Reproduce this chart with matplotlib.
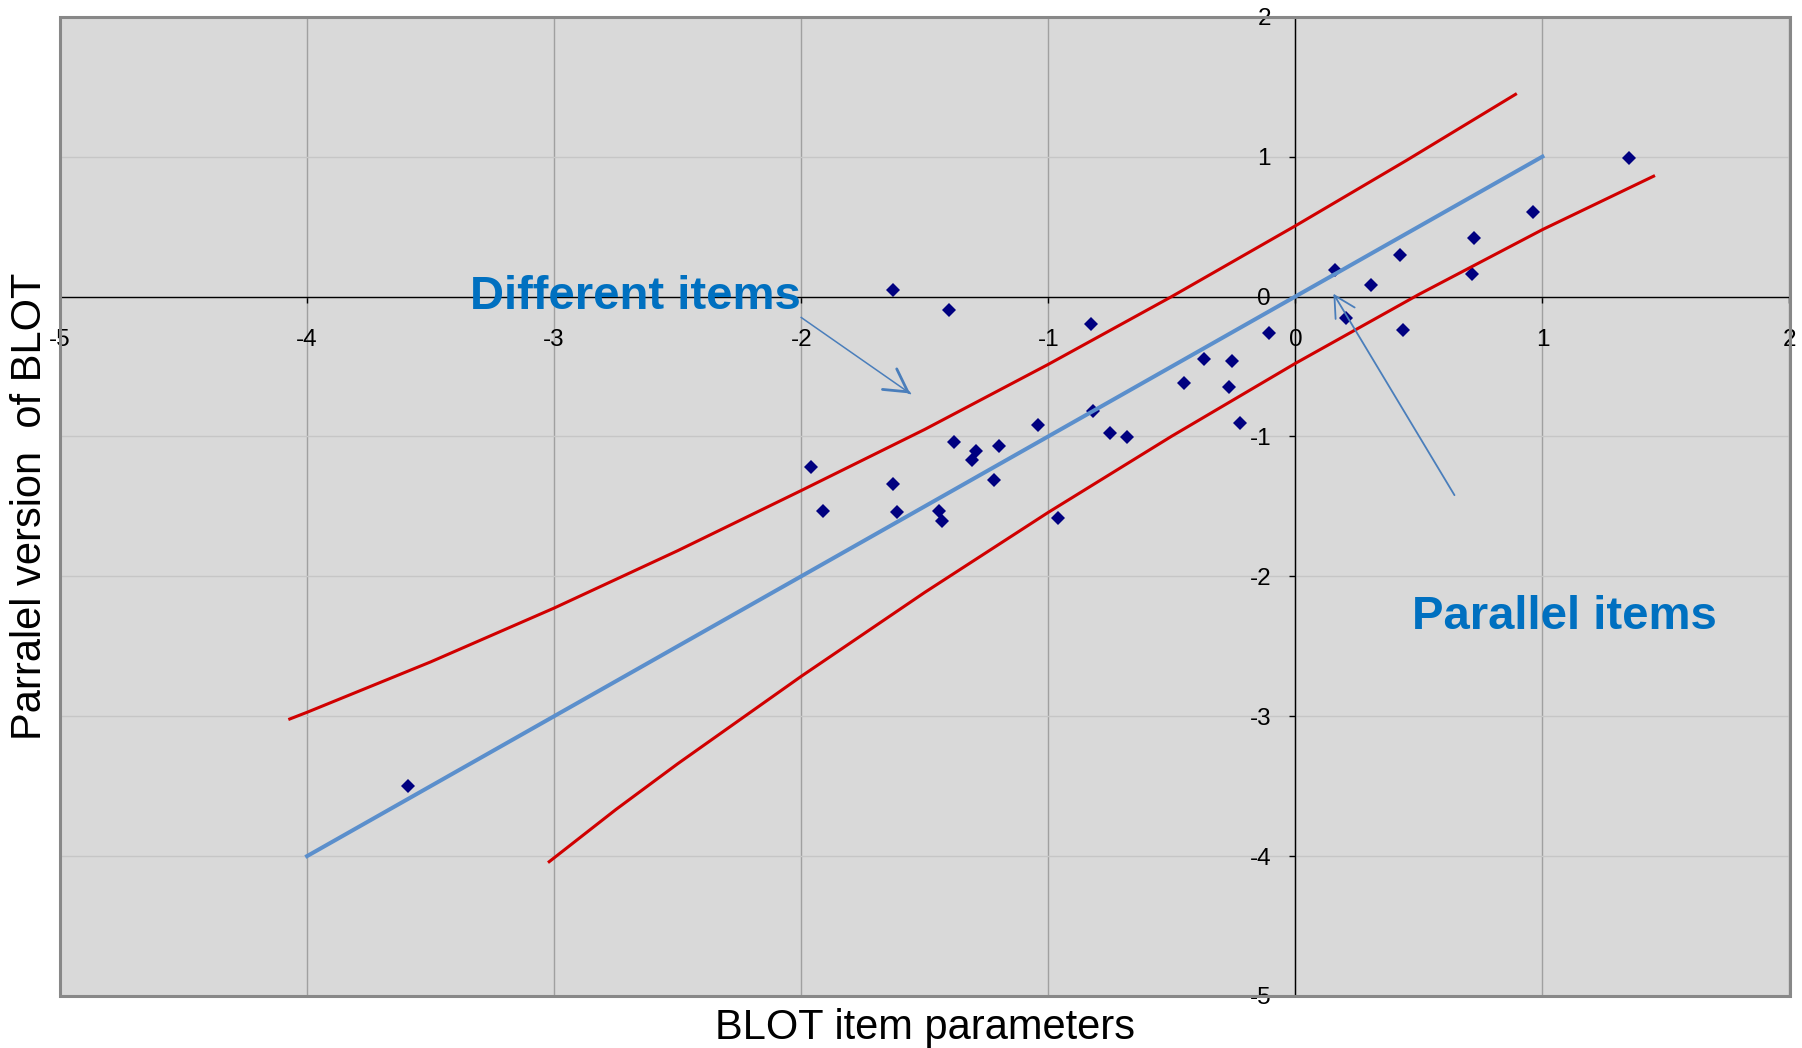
import numpy as np
import matplotlib.pyplot as plt
from matplotlib.patches import Rectangle

plt.rcParams['font.family'] = ['Liberation Sans', 'DejaVu Sans']
plt.rcParams['axes.unicode_minus'] = False

# item parameters: BLOT (x) vs parallel version (y)
blot_x = [-1.630, -1.400, -0.829, -0.107, -0.368, -0.257, -0.449, -0.268, -0.226,
          -0.820, -1.041, -0.749, -0.680, -1.381, -1.291, -1.309, -1.200, -1.220,
          -1.959, -1.630, -1.912, -1.612, -1.441, -1.429, -0.959,
          0.162, 0.305, 0.425, 0.724, 0.713, 0.962, 1.352, 0.204, 0.434, -3.593]
par_y = [0.043, -0.100, -0.196, -0.258, -0.449, -0.458, -0.621, -0.649, -0.902,
         -0.816, -0.919, -0.979, -1.002, -1.041, -1.105, -1.169, -1.069, -1.313,
         -1.222, -1.341, -1.532, -1.542, -1.532, -1.604, -1.580,
         0.190, 0.081, 0.298, 0.417, 0.164, 0.607, 0.988, -0.157, -0.238, -3.500]

# identity line
fit_x = [-4, 1]
fit_y = [-4, 1]

# confidence band
upper_x = [-4.07, -4.0, -3.5, -3.0, -2.5, -2.0, -1.5, -1.0, -0.5, 0.0, 0.45, 0.891]
upper_y = [-3.02, -2.972, -2.612, -2.227, -1.817, -1.387, -0.95, -0.485, 0.0, 0.505, 0.973, 1.445]
lower_x = [-3.02, -2.75, -2.5, -2.0, -1.5, -1.0, -0.5, 0.0, 0.5, 1.0, 1.45]
lower_y = [-4.04, -3.667, -3.34, -2.715, -2.115, -1.543, -0.998, -0.478, 0.015, 0.478, 0.86]

ticks = [-5, -4, -3, -2, -1, 0, 1, 2]

W, H = 1802, 1048
fig = plt.figure(figsize=(W / 100, H / 100), dpi=100)
ax = fig.add_axes([60 / W, 1 - 996 / H, (1789.5 - 60) / W, (996 - 16.7) / H])
ax.set_facecolor('#d9d9d9')
ax.set_xlim(-5, 2)
ax.set_ylim(-5, 2)
ax.set_xticks(ticks)
ax.set_yticks(ticks)

ax.xaxis.grid(True, color='#a0a0a0', lw=1.0, zorder=0)
ax.yaxis.grid(True, color='#c6c6c6', lw=1.0, zorder=0)
ax.set_axisbelow(True)

ax.spines['left'].set_position(('data', 0))
ax.spines['bottom'].set_position(('data', 0))
ax.spines['right'].set_visible(False)
ax.spines['top'].set_visible(False)
for s in ['left', 'bottom']:
    ax.spines[s].set_color('black')
    ax.spines[s].set_linewidth(1.0)

ax.add_patch(Rectangle((0, 0), 1, 1, transform=ax.transAxes, fill=False,
                       edgecolor='#888888', lw=2.2, clip_on=False, zorder=5))

ax.tick_params(axis='x', direction='out', length=4, width=1, pad=19.5, labelsize=17.5)
ax.tick_params(axis='y', direction='out', length=4.5, width=1, pad=13, labelsize=17.5)

ax.plot(blot_x, par_y, 'D', color='#000080', ms=6.8, mew=0, zorder=2)
ax.plot(fit_x, fit_y, color='#5b8fcc', lw=2.9, zorder=3)
ax.plot(upper_x, upper_y, color='#d00000', lw=2.2, zorder=3)
ax.plot(lower_x, lower_y, color='#d00000', lw=2.2, zorder=3)

ax.text(-2.0, -0.086, 'Different items', color='#0070c0', fontsize=34,
        fontweight='bold', ha='right', va='baseline', zorder=6)
ax.text(0.474, -2.379, 'Parallel items', color='#0070c0', fontsize=34,
        fontweight='bold', ha='left', va='baseline', zorder=6)

# "Different items" arrow: thin shaft, heavier open head
ax.plot([-2.0, -1.559], [-0.15, -0.693], color='#4a7ebb', lw=1.1, zorder=6)
ax.annotate('', xy=(-1.559, -0.693), xytext=(-1.5634, -0.6876),
            arrowprops=dict(arrowstyle='->,head_length=0.8,head_width=0.45',
                            color='#4a7ebb', lw=2.0, mutation_scale=20,
                            shrinkA=0, shrinkB=0), zorder=6)
# "Parallel items" arrow
ax.annotate('', xy=(0.154, 0.02), xytext=(0.644, -1.42),
            arrowprops=dict(arrowstyle='->,head_length=0.75,head_width=0.4',
                            color='#4a7ebb', lw=1.3, mutation_scale=20,
                            shrinkA=0, shrinkB=0), zorder=6)

fig.text(924.5 / W, 1 - 1039 / H, 'BLOT item parameters', fontsize=30,
         ha='center', va='baseline')
fig.text(41 / W, 1 - 506 / H, 'Parralel version  of BLOT', fontsize=30,
         rotation=90, ha='center', va='baseline', rotation_mode='anchor')

fig.savefig('out.png', dpi=100)
